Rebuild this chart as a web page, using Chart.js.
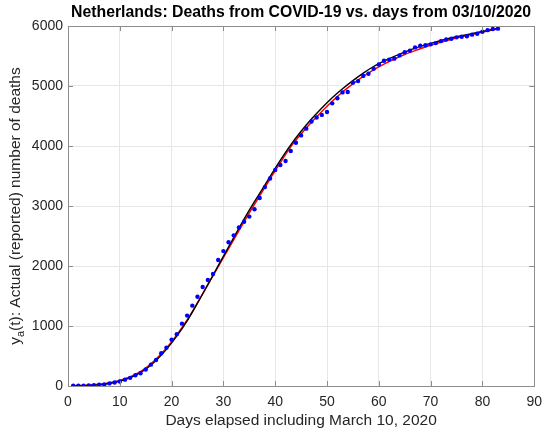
<!DOCTYPE html>
<html>
<head>
<meta charset="utf-8">
<script src="https://cdn.jsdelivr.net/npm/chart.js@4/dist/chart.umd.min.js"></script>
<style>
  html, body { margin: 0; padding: 0; background: #fff; }
  #wrap { width: 550px; height: 434px; }
</style>
</head>
<body>
<div id="wrap"><canvas id="myChart" width="550" height="434"></canvas></div>
<script>
// reported cumulative deaths, one per day from March 10 2020
const days = [1,2,3,4,5,6,7,8,9,10,11,12,13,14,15,16,17,18,19,20,21,22,23,24,25,26,27,28,29,30,
  31,32,33,34,35,36,37,38,39,40,41,42,43,44,45,46,47,48,49,50,51,52,53,54,55,56,57,58,59,60,
  61,62,63,64,65,66,67,68,69,70,71,72,73,74,75,76,77,78,79,80,81,82,83];
const deaths = [4,5,5,10,12,20,24,43,58,76,106,136,179,213,276,356,434,546,639,771,
  864,1039,1173,1339,1487,1651,1766,1867,2101,2248,2396,2511,2643,2737,2823,2945,3134,3315,3459,3601,
  3684,3751,3916,4054,4177,4289,4409,4475,4518,4566,4711,4795,4893,4900,5056,5082,5168,5204,5288,5359,
  5422,5440,5456,5510,5562,5590,5643,5670,5680,5694,5715,5748,5775,5788,5811,5822,5830,5856,5871,5903,
  5931,5951,5956];

// the two fitted curves, every second day
const fitDays = [1,3,5,7,9,11,13,15,17,19,21,23,25,27,29,31,33,35,37,39,41,43,45,47,49,51,53,55,57,59,
  61,63,65,67,69,71,73,75,77,79,81,83];
const fitRed = [5,10,20,38,70,120,195,300,450,630,850,1100,1390,1690,1990,2290,2590,2885,3170,3450,
  3725,3985,4200,4395,4575,4745,4900,5035,5160,5270,5365,5450,5525,5590,5650,5705,5755,5800,5840,5880,
  5915,5950];
const fitBlack = [2,6,14,30,58,105,178,280,425,610,830,1085,1380,1690,2005,2320,2630,2930,3210,3490,
  3765,4020,4245,4450,4635,4805,4955,5090,5215,5325,5415,5495,5565,5630,5685,5735,5780,5820,5857,5892,
  5927,5962];

const xTicks = [0,10,20,30,40,50,60,70,80,90];
const yTicks = [0,1000,2000,3000,4000,5000,6000];

const titleText = "Netherlands: Deaths from COVID-19 vs. days from 03/10/2020";
const xTitle = "Days elapsed including March 10, 2020";
const fontFam = "'Liberation Sans', Arial, sans-serif";

function toPoints(xs, ys) {
  return xs.map((x, i) => ({ x: x, y: ys[i] }));
}

// matlab style box, inward ticks, title and y label with subscript
const decor = {
  id: "decor",
  afterDraw(chart) {
    const ctx = chart.ctx;
    const a = chart.chartArea;
    const sx = chart.scales.x, sy = chart.scales.y;
    ctx.save();
    ctx.strokeStyle = "#8c8c8c";
    ctx.lineWidth = 1;
    ctx.strokeRect(Math.round(a.left) + 0.5, Math.round(a.top) + 0.5,
      Math.round(a.right - a.left), Math.round(a.bottom - a.top));
    ctx.beginPath();
    xTicks.forEach((v) => {
      const x = Math.round(sx.getPixelForValue(v)) + 0.5;
      ctx.moveTo(x, a.bottom); ctx.lineTo(x, a.bottom - 5);
      ctx.moveTo(x, a.top); ctx.lineTo(x, a.top + 5);
    });
    yTicks.forEach((v) => {
      const y = Math.round(sy.getPixelForValue(v)) + 0.5;
      ctx.moveTo(a.left, y); ctx.lineTo(a.left + 5, y);
      ctx.moveTo(a.right, y); ctx.lineTo(a.right - 5, y);
    });
    ctx.stroke();

    // title
    ctx.fillStyle = "#000";
    ctx.font = "bold 15.8px " + fontFam;
    ctx.textAlign = "center";
    ctx.textBaseline = "middle";
    ctx.fillText(titleText, (a.left + a.right) / 2, 13);

    // y label
    ctx.translate(15, (a.top + a.bottom) / 2);
    ctx.rotate(-Math.PI / 2);
    ctx.fillStyle = "#262626";
    const big = "15.5px " + fontFam, small = "11px " + fontFam;
    const rest = "(t): Actual (reported) number of deaths";
    ctx.font = big;
    const w1 = ctx.measureText("y").width;
    const w3 = ctx.measureText(rest).width;
    ctx.font = small;
    const w2 = ctx.measureText("a").width;
    let x0 = -(w1 + w2 + w3) / 2;
    ctx.textAlign = "left";
    ctx.textBaseline = "alphabetic";
    ctx.font = big;
    ctx.fillText("y", x0, 5);
    ctx.font = small;
    ctx.fillText("a", x0 + w1, 9);
    ctx.font = big;
    ctx.fillText(rest, x0 + w1 + w2, 5);
    ctx.restore();
  }
};

const data = {
  datasets: [
    {
      label: "reported",
      data: toPoints(days, deaths),
      showLine: false,
      pointRadius: 2.2,
      pointBackgroundColor: "#0000ff",
      pointBorderWidth: 0,
      order: 0,
    },
    {
      label: "fit black",
      data: toPoints(fitDays, fitBlack),
      showLine: true,
      borderColor: "#000000",
      borderWidth: 1.4,
      pointRadius: 0,
      cubicInterpolationMode: "monotone",
      order: 1,
    },
    {
      label: "fit red",
      data: toPoints(fitDays, fitRed),
      showLine: true,
      borderColor: "#ff0000",
      borderWidth: 1.5,
      pointRadius: 0,
      cubicInterpolationMode: "monotone",
      order: 2,
    },
  ],
};

const config = {
  type: "scatter",
  data: data,
  options: {
    responsive: false,
    animation: false,
    layout: { padding: { top: 26, right: 14, left: 0, bottom: 0 } },
    plugins: {
      legend: { display: false },
      tooltip: { enabled: false },
      title: { display: false },
    },
    scales: {
      x: {
        type: "linear",
        min: 0,
        max: 90,
        afterBuildTicks: (s) => { s.ticks = xTicks.map((v) => ({ value: v })); },
        afterFit: (s) => { s.height = 48; },
        grid: { color: "#e6e6e6", drawTicks: false },
        border: { display: false },
        ticks: { padding: 8, color: "#262626", font: { family: fontFam, size: 14 }, maxRotation: 0 },
        title: { display: true, text: xTitle, color: "#262626", padding: { top: 1 }, font: { family: fontFam, size: 15.5 } },
      },
      y: {
        min: 0,
        max: 6000,
        afterBuildTicks: (s) => { s.ticks = yTicks.map((v) => ({ value: v })); },
        afterFit: (s) => { s.width = 68; },
        grid: { color: "#e6e6e6", drawTicks: false },
        border: { display: false },
        ticks: { padding: 5, color: "#262626", font: { family: fontFam, size: 14 }, callback: (v) => String(v) },
      },
    },
  },
  plugins: [decor],
};

const myChart = new Chart(document.getElementById("myChart"), config);
</script>
</body>
</html>
